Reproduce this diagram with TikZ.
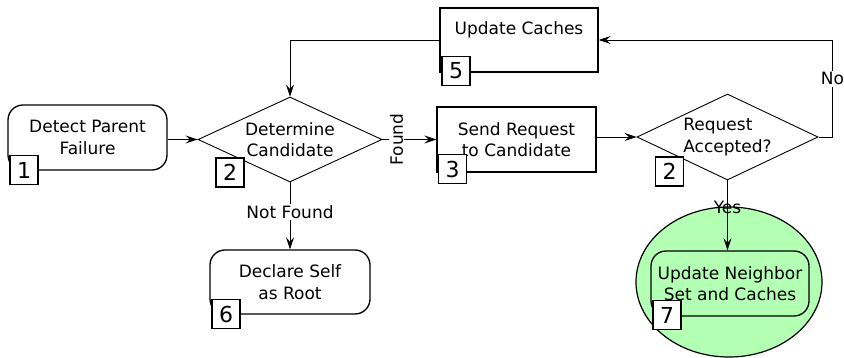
\documentclass[tikz,border=0pt]{standalone}
\usepackage{fontspec}
\setmainfont{DejaVu Sans}
\usetikzlibrary{arrows.meta,shapes.geometric}

\definecolor{stepgreen}{RGB}{179,255,179}

\tikzset{
  txt/.style={font=\fontsize{17}{21.5}\selectfont, align=center},
  roundbox/.style={txt, draw, line width=1.3pt, rounded corners=15pt,
    minimum width=159pt, minimum height=65pt, inner sep=0pt},
  sqbox/.style={txt, draw, line width=1.3pt,
    minimum width=159pt, minimum height=65pt, inner sep=0pt},
  decision/.style={txt, draw, line width=0.9pt, diamond, aspect=2.16,
    minimum width=184pt, minimum height=85pt, inner sep=0pt},
  numbox/.style={draw, fill=white, line width=1.2pt, minimum width=28pt,
    minimum height=29pt, inner sep=0pt, font=\fontsize{22}{22}\selectfont},
  flow/.style={line width=0.9pt, -{Stealth[length=12pt,width=8pt,inset=4.5pt]}},
  lbl/.style={txt, fill=white, inner sep=1.5pt},
}

\begin{document}
\begin{tikzpicture}[x=1pt,y=-1pt]
  \useasboundingbox (0,0) rectangle (844,358);

  % green region around the final step
  \node[ellipse, draw, line width=1.2pt, fill=stepgreen,
        minimum width=186pt, minimum height=150pt, inner sep=0pt] (region) at (729,282) {};

  % process steps
  \node[roundbox] (detect) at (87.5,137.5) {Detect Parent\\Failure};
  \node[decision] (decide) at (290,139.5) {Determine\\Candidate};
  \node[sqbox] (send) at (516.5,139.5) {Send Request\\to Candidate};
  \node[decision, minimum width=181pt, minimum height=86pt] (accept) at (727.5,137)
       {\begin{tabular}{@{}l@{}}Request\\Accepted?\end{tabular}};
  \node[sqbox, minimum width=158pt, minimum height=64pt] (caches) at (519,40)
       {\raisebox{10pt}[\height][\depth]{Update Caches}};
  \node[roundbox, minimum width=160pt, minimum height=64pt] (declare) at (290,282) {Declare Self\\as Root};
  \node[roundbox, minimum width=158pt] (neighbor) at (730,283.5) {Update Neighbor\\Set and Caches};

  % connectors
  \draw[flow] (detect.east |- decide.west) -- (decide.west);
  \draw[flow] (decide.east) -- node[lbl, pos=0.26, rotate=90, inner sep=0.5pt] {Found} (send.west |- decide.east);
  \draw[flow] (send.east |- accept.west) -- (accept.west);
  \draw[flow] (accept.east) -- ++(14,0) |- node[lbl, pos=0.3] {No} (caches.east);
  \draw[flow] (caches.west) -| (decide.north);
  \draw[flow] (decide.south) -- node[lbl, pos=0.44] {Not Found} (decide.south |- declare.north);
  \draw[flow] (accept.south) -- node[txt, pos=0.38, inner sep=0pt] {Yes} (accept.south |- neighbor.north);

  % step numbers
  \node[numbox] (n1) at (24,170) {1};
  \node[numbox] (n2a) at (230,172.5) {2};
  \node[numbox] (n3) at (452.5,169) {3};
  \node[numbox] (n2b) at (669.5,171.5) {2};
  \node[numbox] (n5) at (456,71) {5};
  \node[numbox] (n6) at (226,314) {6};
  \node[numbox] (n7) at (667,315) {7};
\end{tikzpicture}
\end{document}
